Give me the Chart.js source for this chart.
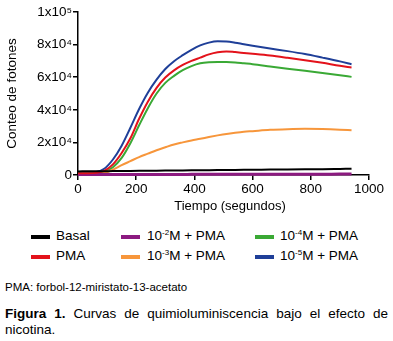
<!DOCTYPE html>
<html>
<head>
<meta charset="utf-8">
<script src="https://cdn.jsdelivr.net/npm/chart.js@4.4.1/dist/chart.umd.min.js"></script>
<style>
  html, body { margin:0; padding:0; background:#fff; }
  body { width:393px; height:341px; position:relative; overflow:hidden; font-family:"Liberation Sans", Arial, sans-serif; color:#000; }
  #wrap { position:absolute; left:0; top:0; width:393px; height:220px; }
  .leg { position:absolute; font-size:13.5px; line-height:16px; white-space:nowrap; }
  .sw { position:absolute; width:19px; height:4px; }
  .leg sup { font-size:8px; vertical-align:5px; line-height:0; }
  #foot { position:absolute; left:5px; top:281px; font-size:11.5px; }
  #cap { position:absolute; left:5px; top:306px; width:383px; font-size:13.5px; line-height:15.5px; text-align:justify; }
</style>
</head>
<body>
<div id="wrap"><canvas id="c" width="393" height="220" style="width:393px;height:220px"></canvas></div>
<div id="legend"></div>
<div id="foot">PMA: forbol-12-miristato-13-acetato</div>
<div id="cap"><b>Figura 1.</b> Curvas de quimioluminiscencia bajo el efecto de nicotina.</div>
<script>
// ---- data ----
const tiempo = [0, 30, 60, 90, 120, 150, 180, 210, 240, 270, 300, 330, 360, 390, 420, 450, 480, 510, 540, 570, 600, 660, 720, 780, 840, 900, 940];
const basal   = [2200, 2250, 2300, 2350, 2400, 2450, 2500, 2550, 2600, 2650, 2700, 2750, 2800, 2850, 2900, 2950, 3000, 3050, 3100, 3150, 3200, 3300, 3400, 3500, 3600, 3750, 3850];
const pma     = [1000, 1050, 1300, 2500, 6500, 13500, 22500, 34500, 45000, 53500, 59800, 64200, 67500, 70000, 72000, 74000, 75300, 75800, 75400, 74900, 74400, 73300, 71900, 70400, 68800, 67000, 66000];
const m2pma   = [300, 300, 300, 300, 300, 300, 300, 300, 350, 350, 350, 350, 350, 400, 400, 400, 400, 400, 450, 450, 450, 450, 500, 500, 500, 550, 550];
const m3pma   = [400, 500, 700, 1200, 3200, 6000, 8500, 11000, 13100, 15200, 17000, 18700, 20000, 21200, 22200, 23300, 24300, 25200, 25900, 26500, 26900, 27700, 28100, 28300, 28200, 27800, 27400];
const m4pma   = [900, 950, 1100, 1900, 4800, 10500, 19500, 30500, 41000, 50000, 56500, 60800, 64300, 66800, 68500, 69200, 69400, 69300, 69000, 68500, 68000, 66600, 65200, 64000, 62600, 61200, 60200];
const m5pma   = [1000, 1100, 1700, 3800, 9500, 18000, 29000, 40500, 50500, 58500, 65000, 69800, 73500, 76800, 79500, 81200, 82000, 81900, 81200, 80200, 79300, 77600, 76000, 74200, 72000, 69700, 68000];
const xTicks = [0, 200, 400, 600, 800, 1000];
const yTickLabels = {0: "0", 20000: "2x10\u2074", 40000: "4x10\u2074", 60000: "6x10\u2074", 80000: "8x10\u2074", 100000: "1x10\u2075"};
const seriesNames = ["Basal", "PMA", "10<sup>-2</sup>M + PMA", "10<sup>-3</sup>M + PMA", "10<sup>-4</sup>M + PMA", "10<sup>-5</sup>M + PMA"];
const seriesPlain = ["Basal", "PMA", "10-2M + PMA", "10-3M + PMA", "10-4M + PMA", "10-5M + PMA"];
const colors = ["#000000", "#e3121b", "#8c1a80", "#f7963b", "#3aa935", "#1f3f98"];

const FONT = '"Liberation Sans", Arial, sans-serif';
const pts = arr => tiempo.map((t, i) => ({x: t, y: arr[i]}));
const seriesData = [basal, pma, m2pma, m3pma, m4pma, m5pma];
const widths = [2, 2, 3, 2, 2, 2];

const datasets = seriesData.map((d, i) => ({
  label: seriesPlain[i],
  data: pts(d),
  borderColor: colors[i],
  backgroundColor: colors[i],
  borderWidth: widths[i],
  pointRadius: 0,
  cubicInterpolationMode: 'monotone',
  clip: 6,
  fill: false
}));

new Chart(document.getElementById('c'), {
  type: 'line',
  data: { datasets },
  options: {
    responsive: false,
    animation: false,
    layout: { padding: { left: 0, top: 12, right: 24, bottom: 0 } },
    plugins: { legend: { display: false }, tooltip: { enabled: false } },
    scales: {
      x: {
        type: 'linear', min: 0, max: 1000,
        afterBuildTicks: s => { s.ticks = xTicks.map(v => ({value: v})); },
        afterFit: s => { s.height = 45; },
        grid: { display: true, drawOnChartArea: false, drawTicks: true, tickLength: 5, color: '#000', lineWidth: 1.5 },
        border: { display: true, color: '#000', width: 1.5 },
        ticks: { color: '#000', font: { family: FONT, size: 13.5 }, padding: 1, maxRotation: 0,
                 callback: v => String(v) },
        title: { display: true, text: '\u2003Tiempo (segundos)', color: '#000', font: { family: FONT, size: 13 }, padding: { top: 0, bottom: 6 } }
      },
      y: {
        type: 'linear', min: 0, max: 100000,
        afterBuildTicks: s => { s.ticks = Object.keys(yTickLabels).map(v => ({value: +v})); },
        afterFit: s => { s.width = 78; },
        grid: { display: true, drawOnChartArea: false, drawTicks: true, tickLength: 5, color: '#000', lineWidth: 1.5 },
        border: { display: true, color: '#000', width: 1.5 },
        ticks: { color: '#000', font: { family: FONT, size: 13.5 }, padding: 1,
                 callback: v => yTickLabels[v] },
        title: { display: true, text: 'Conteo de fotones', color: '#000', font: { family: FONT, size: 13.5 }, padding: { top: 4, bottom: 0 } }
      }
    }
  }
});

// legend (HTML), 3 columns x 2 rows
const legPos = [
  {sx: 31, tx: 56, y: 236.5},  // Basal
  {sx: 31, tx: 56, y: 256.5},  // PMA
  {sx: 121, tx: 147, y: 236.5},// 10-2
  {sx: 121, tx: 147, y: 256.5},// 10-3
  {sx: 255, tx: 280, y: 236.5},// 10-4
  {sx: 255, tx: 280, y: 256.5} // 10-5
];
const L = document.getElementById('legend');
legPos.forEach((p, i) => {
  const sw = document.createElement('div');
  sw.className = 'sw';
  sw.style.left = p.sx + 'px';
  sw.style.top = (p.y - 2) + 'px';
  sw.style.background = colors[i];
  L.appendChild(sw);
  const t = document.createElement('div');
  t.className = 'leg';
  t.style.left = p.tx + 'px';
  t.style.top = (p.y - 9) + 'px';
  t.innerHTML = seriesNames[i];
  L.appendChild(t);
});
</script>
</body>
</html>
